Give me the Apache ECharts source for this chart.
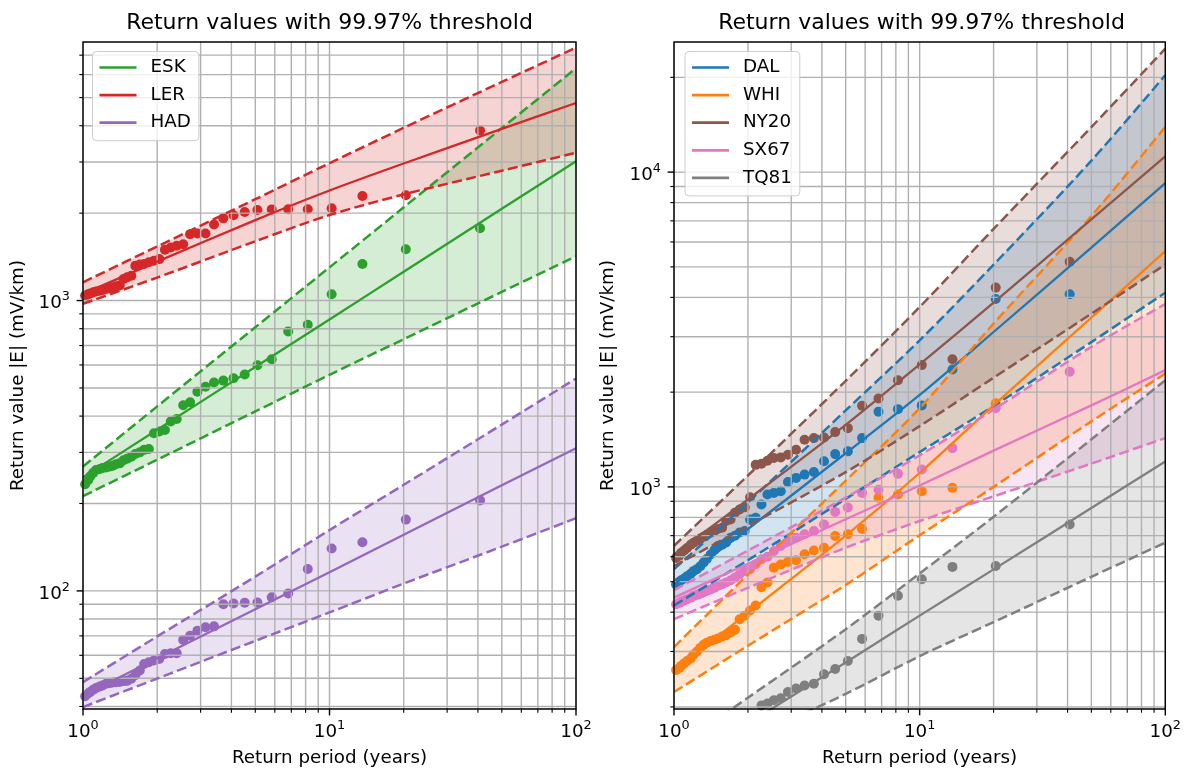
<!DOCTYPE html>
<html><head><meta charset="utf-8">
<script src="https://cdn.jsdelivr.net/npm/echarts@6/dist/echarts.min.js"></script>
<style>html,body{margin:0;padding:0;background:#fff}#c{width:1184px;height:772px}</style>
</head><body><div id="c"></div>
<script>
const TITLE = 'Return values with 99.97% threshold';
const X_LABEL = 'Return period (years)';
const Y_LABEL = 'Return value |E| (mV/km)';

// empirical return periods of the ranked observations (years)
const T_OBS = [40.8, 20.4, 13.6, 10.2, 8.16, 6.8, 5.83, 5.1, 4.53, 4.08, 3.71, 3.4, 3.14, 2.91, 2.72, 2.55, 2.4, 2.27, 2.15, 2.04,
  1.94, 1.85, 1.77, 1.7, 1.63, 1.57, 1.51, 1.46, 1.41, 1.36, 1.32, 1.28, 1.24, 1.2, 1.17, 1.13, 1.1, 1.07, 1.05, 1.02];
// return periods at which the fitted curve and its confidence bounds are read
const T_FIT = [1, 2, 5, 10, 20, 50, 100];

// ---- left panel ----
const ESK_OBS = [1774, 1503, 1336, 1051, 825, 783, 628, 599, 556, 540, 530, 522, 505, 485, 446, 436, 391, 383, 358, 354,
  349, 308, 306, 300, 296, 290, 285, 282, 275, 273, 270, 268, 266, 265, 263, 261, 255, 248, 241, 233];
const ESK_FIT = [246, 359, 590, 861, 1256, 2070, 3020];
const ESK_LO = [212, 283, 415, 555, 736, 1071, 1419];
const ESK_HI = [268, 432, 809, 1301, 2094, 3926, 6310];

const LER_OBS = [3850, 2306, 2290, 2080, 2062, 2062, 2060, 2050, 2018, 1967, 1919, 1828, 1702, 1702, 1693, 1563, 1544, 1524, 1496, 1389,
  1372, 1354, 1336, 1330, 1318, 1218, 1202, 1186, 1126, 1120, 1108, 1102, 1096, 1088, 1080, 1074, 1068, 1057, 1051, 1040];
const LER_FIT = [1054, 1361, 1892, 2393, 2965, 3899, 4790];
const LER_LO = [975, 1200, 1600, 1970, 2320, 2800, 3228];
const LER_HI = [1156, 1535, 2233, 2972, 3935, 5663, 7430];

const HAD_OBS = [205, 176, 147, 140, 119, 98, 95, 91.2, 91, 90.5, 90, 75.5, 75, 72.9, 70.1, 67.8, 61, 61, 60.6, 58.3,
  57.6, 56.8, 56, 53.2, 51.2, 49.8, 49, 48.9, 48.6, 48.5, 48.4, 48.1, 47.9, 47.2, 46.9, 46.3, 45.7, 44.9, 44.3, 43.4];
const HAD_FIT = [43.6, 58.6, 86.5, 116, 156, 231, 310];
const HAD_LO = [39.8, 49.9, 67.3, 84.3, 106, 142, 178];
const HAD_HI = [48.5, 69.7, 112, 162, 232, 374, 539];

// ---- right panel ----
const DAL_OBS = [4093, 3953, 2360, 1815, 1766, 1734, 1429, 1297, 1271, 1206, 1115, 1094, 1068, 1037, 969, 957, 946, 879, 798, 788,
  724, 716, 700, 690, 666, 655, 649, 630, 610, 590, 575, 560, 548, 540, 530, 520, 512, 505, 500, 490];
const DAL_FIT = [490, 735, 1279, 1959, 3105, 5754, 9230];
const DAL_LO = [420, 585, 916, 1290, 1807, 2884, 4140];
const DAL_HI = [548, 893, 1750, 2920, 5080, 10870, 20320];

const WHI_OBS = [null, 1845, 993, 969, 946, 923, 735, 707, 698, 641, 628, 611, 585, 578, 567, 554, 497, 480, 420, 405,
  390, 380, 352, 345, 338, 335, 330, 327, 324, 320, 315, 308, 300, 293, 285, 280, 275, 270, 266, 262];
const WHI_FIT = [262, 398, 700, 1107, 1815, 3451, 5610];
const WHI_LO = [223, 313, 488, 702, 1000, 1615, 2291];
const WHI_HI = [310, 527, 1047, 1778, 3300, 7250, 13930];

const NY20_OBS = [5187, 4296, 2545, 2437, 2183, 1910, 1811, 1537, 1493, 1436, 1429, 1412, 1313, 1265, 1241, 1236, 1211, 1185, 1175, 927,
  862, 848, 827, 788, 779, 742, 735, 725, 715, 705, 695, 685, 675, 665, 655, 640, 628, 618, 605, 595];
const NY20_FIT = [610, 912, 1574, 2450, 3846, 7080, 11220];
const NY20_LO = [560, 752, 1114, 1560, 2223, 3550, 5090];
const NY20_HI = [650, 1087, 2173, 3727, 6600, 13900, 24660];

const SX67_OBS = [2323, 1778, 1328, 1135, 1100, 980, 957, 860, 833, 760, 724, 707, 690, 673, 649, 626, 600, 589, 568, 548,
  541, 528, 515, 505, 497, 491, 485, 478, 472, 468, 463, 458, 454, 450, 445, 440, 436, 432, 428, 424];
const SX67_FIT = [445, 570, 789, 1010, 1304, 1815, 2350];
const SX67_LO = [380, 478, 641, 779, 933, 1186, 1429];
const SX67_HI = [470, 628, 925, 1260, 1760, 2786, 3811];

const TQ81_OBS = [760, 561, 557, 509, 451, 390, 329, 280, 264, 254, 237, 234, 229, 223, 213, 210, 205, 202, null, null,
  null, null, null, null, null, null, null, null, null, null, null, null, null, null, null, null, null, null, null, null];
const TQ81_FIT = [126, 177, 277, 390, 547, 857, 1205];
const TQ81_LO = [120, 158, 220, 290, 372, 518, 665];
const TQ81_HI = [147, 214, 353, 531, 804, 1416, 2183];

// axis ranges and tick / grid values
const X_LIM = [1, 100];
const YL_LIM = [39.2, 7770];
const YR_LIM = [197, 25900];
const X_MAJOR = [1, 10, 100];
const X_MINOR = [2, 3, 4, 5, 6, 7, 8, 9, 20, 30, 40, 50, 60, 70, 80, 90];
const YL_MAJOR = [100, 1000];
const YL_MINOR = [40, 50, 60, 70, 80, 90, 200, 300, 400, 500, 600, 700, 800, 900, 2000, 3000, 4000, 5000, 6000, 7000];
const YR_MAJOR = [1000, 10000];
const YR_MINOR = [200, 300, 400, 500, 600, 700, 800, 900, 2000, 3000, 4000, 5000, 6000, 7000, 8000, 9000, 20000];

const LEFT = [
  {name: 'ESK', color: '#2ca02c', obs: ESK_OBS, fit: ESK_FIT, lo: ESK_LO, hi: ESK_HI},
  {name: 'LER', color: '#d62728', obs: LER_OBS, fit: LER_FIT, lo: LER_LO, hi: LER_HI},
  {name: 'HAD', color: '#9467bd', obs: HAD_OBS, fit: HAD_FIT, lo: HAD_LO, hi: HAD_HI}
];
const RIGHT = [
  {name: 'DAL', color: '#1f77b4', obs: DAL_OBS, fit: DAL_FIT, lo: DAL_LO, hi: DAL_HI},
  {name: 'WHI', color: '#ff7f0e', obs: WHI_OBS, fit: WHI_FIT, lo: WHI_LO, hi: WHI_HI},
  {name: 'NY20', color: '#8c564b', obs: NY20_OBS, fit: NY20_FIT, lo: NY20_LO, hi: NY20_HI},
  {name: 'SX67', color: '#e377c2', obs: SX67_OBS, fit: SX67_FIT, lo: SX67_LO, hi: SX67_HI},
  {name: 'TQ81', color: '#7f7f7f', obs: TQ81_OBS, fit: TQ81_FIT, lo: TQ81_LO, hi: TQ81_HI}
];

const FONT = 'DejaVu Sans';
const FS = 18.3;
const SMOOTH = 0.3;

function rgba(hex, a) {
  const n = parseInt(hex.slice(1), 16);
  return 'rgba(' + ((n >> 16) & 255) + ',' + ((n >> 8) & 255) + ',' + (n & 255) + ',' + a + ')';
}

function stationSeries(st, g) {
  const obsData = [];
  T_OBS.forEach(function (t, i) { if (st.obs[i] != null) obsData.push([t, st.obs[i]]); });
  const pairs = function (arr) { return T_FIT.map(function (t, i) { return [t, arr[i]]; }); };
  const base = {xAxisIndex: g, yAxisIndex: g, silent: true, animation: false};
  return [
    Object.assign({}, base, {
      type: 'scatter', name: st.name + ' obs', data: obsData, symbol: 'circle', symbolSize: 10,
      itemStyle: {color: st.color, opacity: 1}, z: 1
    }),
    Object.assign({}, base, {
      type: 'custom', name: st.name + ' band', clip: true, z: 1,
      data: [[T_FIT[0], st.fit[0]]],
      renderItem: function (params, api) {
        const up = T_FIT.map(function (t, i) { return api.coord([t, st.hi[i]]); });
        const dn = T_FIT.map(function (t, i) { return api.coord([t, st.lo[i]]); }).reverse();
        return {type: 'polygon', shape: {points: up.concat(dn)}, style: {fill: rgba(st.color, 0.2), stroke: 'none'}};
      }
    }),
    Object.assign({}, base, {
      type: 'line', name: st.name, data: pairs(st.fit), showSymbol: false, symbol: 'none', smooth: SMOOTH,
      lineStyle: {color: st.color, width: 2.3}, itemStyle: {color: st.color}, z: 3
    }),
    Object.assign({}, base, {
      type: 'line', name: st.name + ' upper', data: pairs(st.hi), showSymbol: false, symbol: 'none', smooth: SMOOTH,
      lineStyle: {color: st.color, width: 2.5, type: [10, 4.4]}, itemStyle: {color: st.color}, z: 3
    }),
    Object.assign({}, base, {
      type: 'line', name: st.name + ' lower', data: pairs(st.lo), showSymbol: false, symbol: 'none', smooth: SMOOTH,
      lineStyle: {color: st.color, width: 2.5, type: [10, 4.4]}, itemStyle: {color: st.color}, z: 3
    })
  ];
}

function gridSeries(g, yMaj, yMin, ylim) {
  return {
    type: 'custom', xAxisIndex: g, yAxisIndex: g, silent: true, clip: false, z: 2,
    data: [[X_LIM[0], ylim[0]]],
    renderItem: function (params, api) {
      const cs = params.coordSys;
      const kids = [];
      X_MAJOR.concat(X_MINOR).forEach(function (v) {
        const x = api.coord([v, ylim[0]])[0];
        kids.push({type: 'line', shape: {x1: x, y1: cs.y, x2: x, y2: cs.y + cs.height}, style: {stroke: '#b0b0b0', lineWidth: 1.4}});
      });
      yMaj.concat(yMin).forEach(function (v) {
        const y = api.coord([X_LIM[0], v])[1];
        kids.push({type: 'line', shape: {x1: cs.x, y1: y, x2: cs.x + cs.width, y2: y}, style: {stroke: '#b0b0b0', lineWidth: 1.4}});
      });
      return {type: 'group', children: kids};
    }
  };
}

function frameSeries(g, yMaj, yMin, ylim) {
  return {
    type: 'custom', xAxisIndex: g, yAxisIndex: g, silent: true, clip: false, z: 6,
    data: [[X_LIM[0], ylim[0]]],
    renderItem: function (params, api) {
      const cs = params.coordSys;
      const kids = [];
      const bottom = cs.y + cs.height, left = cs.x;
      X_MAJOR.forEach(function (v) {
        const x = api.coord([v, ylim[0]])[0];
        kids.push({type: 'line', shape: {x1: x, y1: bottom, x2: x, y2: bottom + 6.4}, style: {stroke: '#000', lineWidth: 1.4}});
      });
      X_MINOR.forEach(function (v) {
        const x = api.coord([v, ylim[0]])[0];
        kids.push({type: 'line', shape: {x1: x, y1: bottom, x2: x, y2: bottom + 3.7}, style: {stroke: '#000', lineWidth: 1.1}});
      });
      yMaj.forEach(function (v) {
        const y = api.coord([X_LIM[0], v])[1];
        kids.push({type: 'line', shape: {x1: left - 6.4, y1: y, x2: left, y2: y}, style: {stroke: '#000', lineWidth: 1.4}});
      });
      yMin.forEach(function (v) {
        const y = api.coord([X_LIM[0], v])[1];
        kids.push({type: 'line', shape: {x1: left - 3.7, y1: y, x2: left, y2: y}, style: {stroke: '#000', lineWidth: 1.1}});
      });
      kids.push({type: 'rect', shape: {x: cs.x, y: cs.y, width: cs.width, height: cs.height},
        style: {fill: 'none', stroke: '#000', lineWidth: 1.4}});
      return {type: 'group', children: kids};
    }
  };
}

function powLabel(v) {
  const lg = Math.log10(v);
  const e = Math.round(lg);
  if (Math.abs(lg - e) > 1e-6) return '';
  return '{b|10}{s|' + e + '}';
}
const RICH = {
  b: {fontSize: FS, fontFamily: FONT, color: '#000', lineHeight: 26, verticalAlign: 'middle'},
  s: {fontSize: 12.8, fontFamily: FONT, color: '#000', lineHeight: 14, verticalAlign: 'top'}
};

function xAxisCfg(g) {
  return {
    gridIndex: g, type: 'log', logBase: 10, min: X_LIM[0], max: X_LIM[1],
    axisLine: {show: false}, axisTick: {show: false}, splitLine: {show: false}, minorTick: {show: false},
    axisLabel: {formatter: powLabel, rich: RICH, margin: 10, showMinLabel: true, showMaxLabel: true},
    name: X_LABEL, nameLocation: 'middle', nameGap: 40,
    nameTextStyle: {fontSize: FS, fontFamily: FONT, color: '#000'}
  };
}
function yAxisCfg(g, lim, gap) {
  return {
    gridIndex: g, type: 'log', logBase: 10, min: lim[0], max: lim[1],
    axisLine: {show: false}, axisTick: {show: false}, splitLine: {show: false}, minorTick: {show: false},
    axisLabel: {formatter: powLabel, rich: RICH, margin: 13, padding: [6, 0, 0, 0]},
    name: Y_LABEL, nameLocation: 'middle', nameGap: gap,
    nameTextStyle: {fontSize: FS, fontFamily: FONT, color: '#000'}
  };
}

function legendCfg(list, left) {
  return {
    data: list.map(function (s) { return s.name; }),
    orient: 'vertical', left: left, top: 51.5,
    icon: 'rect', itemWidth: 37, itemHeight: 2.7, itemGap: 9.6,
    padding: [7, 8, 9, 7],
    backgroundColor: 'rgba(255,255,255,0.8)', borderColor: '#cccccc', borderWidth: 1, borderRadius: 4,
    textStyle: {fontSize: FS, fontFamily: FONT, color: '#000', lineHeight: 18, padding: [0, 0, 0, 9]},
    selectedMode: false
  };
}

const series = [];
LEFT.forEach(function (st) { series.push.apply(series, stationSeries(st, 0)); });
RIGHT.forEach(function (st) { series.push.apply(series, stationSeries(st, 1)); });
series.push(gridSeries(0, YL_MAJOR, YL_MINOR, YL_LIM));
series.push(gridSeries(1, YR_MAJOR, YR_MINOR, YR_LIM));
series.push(frameSeries(0, YL_MAJOR, YL_MINOR, YL_LIM));
series.push(frameSeries(1, YR_MAJOR, YR_MINOR, YR_LIM));

const chart = echarts.init(document.getElementById('c'), null, {renderer: 'canvas'});
chart.setOption({
  animation: false,
  backgroundColor: '#fff',
  textStyle: {fontFamily: FONT},
  title: [
    {text: TITLE, left: 329.5, top: 12, textAlign: 'center', padding: 0,
      textStyle: {fontSize: 22, fontWeight: 'normal', fontFamily: FONT, color: '#000', lineHeight: 22}},
    {text: TITLE, left: 921.5, top: 12, textAlign: 'center', padding: 0,
      textStyle: {fontSize: 22, fontWeight: 'normal', fontFamily: FONT, color: '#000', lineHeight: 22}}
  ],
  legend: [legendCfg(LEFT, 92.5), legendCfg(RIGHT, 685)],
  grid: [
    {left: 83, top: 42, width: 493, height: 670, containLabel: false},
    {left: 674, top: 42, width: 495, height: 670, containLabel: false}
  ],
  xAxis: [xAxisCfg(0), xAxisCfg(1)],
  yAxis: [yAxisCfg(0, YL_LIM, 56), yAxisCfg(1, YR_LIM, 57)],
  series: series
});
</script></body></html>
